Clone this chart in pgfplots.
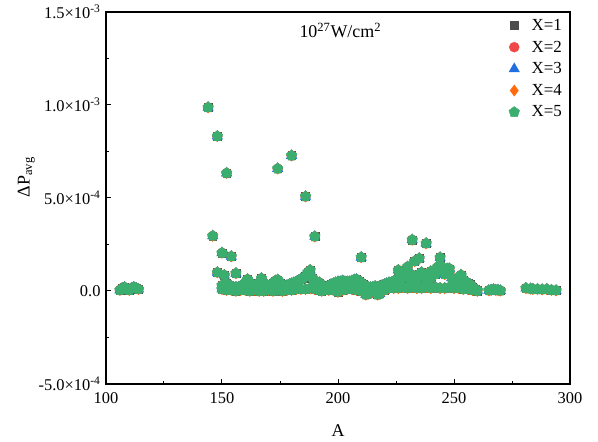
\documentclass[border=0pt]{standalone}
\usepackage{fontspec}
\setmainfont{Liberation Serif}
\usepackage{pgfplots}
\usepackage{pgfplotstable}
\pgfplotsset{compat=1.18}
\usetikzlibrary{plotmarks}

\definecolor{cgray}{HTML}{4D4D4D}
\definecolor{cred}{HTML}{F04848}
\definecolor{cblue}{HTML}{1F6FE0}
\definecolor{corange}{HTML}{FF6A0F}
\definecolor{cgreen}{HTML}{3AAE6E}

% A, Delta P_avg
\pgfplotstableread{
A P
106 0.05e-4
107 0.15e-4
108 0.20e-4
109 0.10e-4
110 0.05e-4
111 0.15e-4
112 0.20e-4
113 0.15e-4
114 0.10e-4
144 9.87e-4
146 2.96e-4
148 8.32e-4
148 1.00e-4
150 2.05e-4
152 6.34e-4
151 0.85e-4
154 1.86e-4
156 0.95e-4
174 6.58e-4
180 7.28e-4
186 5.08e-4
188 1.12e-4
190 2.93e-4
210 1.81e-4
226 1.12e-4
230 1.30e-4
232 2.75e-4
233 1.60e-4
235 1.75e-4
238 2.56e-4
240 1.05e-4
244 1.80e-4
248 1.20e-4
253 0.86e-4
150 0.10e-4
152 0.05e-4
154 0.05e-4
156 0.00e-4
158 0.05e-4
160 0.05e-4
162 0.00e-4
164 0.05e-4
166 0.00e-4
168 0.00e-4
170 0.05e-4
172 0.00e-4
174 0.05e-4
176 0.00e-4
178 0.05e-4
180 0.05e-4
182 0.10e-4
184 0.10e-4
186 0.10e-4
188 0.15e-4
190 0.10e-4
192 0.05e-4
193 0.00e-4
196 0.05e-4
198 0.05e-4
200 -0.05e-4
202 0.05e-4
204 0.10e-4
206 0.10e-4
208 0.05e-4
210 0.00e-4
212 -0.20e-4
213 -0.15e-4
215 -0.05e-4
217 -0.20e-4
218 -0.15e-4
220 0.05e-4
222 0.15e-4
224 0.15e-4
226 0.15e-4
228 0.20e-4
230 0.15e-4
232 0.20e-4
234 0.15e-4
236 0.15e-4
238 0.20e-4
240 0.15e-4
242 0.20e-4
244 0.15e-4
246 0.15e-4
248 0.20e-4
250 0.15e-4
252 0.15e-4
254 0.10e-4
256 0.10e-4
258 0.05e-4
260 0.00e-4
150 0.30e-4
151 0.30e-4
152 0.40e-4
153 0.30e-4
154 0.25e-4
155 0.20e-4
156 0.20e-4
157 0.20e-4
158 0.25e-4
159 0.30e-4
160 0.45e-4
161 0.63e-4
162 0.45e-4
163 0.30e-4
164 0.25e-4
165 0.30e-4
166 0.45e-4
167 0.68e-4
168 0.45e-4
169 0.30e-4
170 0.25e-4
171 0.30e-4
172 0.40e-4
173 0.55e-4
174 0.60e-4
175 0.45e-4
176 0.30e-4
177 0.25e-4
178 0.30e-4
179 0.35e-4
180 0.40e-4
181 0.45e-4
182 0.50e-4
183 0.55e-4
184 0.65e-4
185 0.70e-4
186 0.80e-4
187 1.00e-4
189 0.70e-4
190 0.50e-4
191 0.40e-4
192 0.45e-4
193 0.30e-4
194 0.20e-4
195 0.20e-4
196 0.25e-4
197 0.35e-4
198 0.40e-4
199 0.45e-4
200 0.50e-4
201 0.50e-4
202 0.55e-4
203 0.50e-4
204 0.50e-4
205 0.50e-4
206 0.55e-4
207 0.60e-4
208 0.62e-4
209 0.55e-4
210 0.45e-4
211 0.35e-4
212 0.20e-4
213 0.20e-4
214 0.20e-4
215 0.20e-4
216 0.25e-4
217 0.20e-4
218 0.25e-4
219 0.30e-4
220 0.35e-4
221 0.40e-4
222 0.45e-4
223 0.45e-4
224 0.50e-4
225 0.60e-4
226 0.70e-4
227 0.60e-4
228 0.80e-4
229 0.90e-4
230 0.75e-4
231 0.60e-4
232 0.86e-4
233 0.70e-4
234 0.60e-4
235 0.90e-4
236 1.00e-4
237 0.80e-4
238 0.60e-4
239 0.80e-4
240 0.70e-4
241 1.00e-4
242 0.90e-4
243 1.30e-4
244 1.40e-4
245 1.10e-4
246 0.90e-4
247 1.20e-4
248 1.00e-4
249 0.70e-4
250 0.60e-4
251 0.65e-4
252 0.70e-4
253 0.80e-4
254 0.60e-4
255 0.50e-4
256 0.40e-4
257 0.35e-4
258 0.20e-4
259 0.10e-4
260 0.05e-4
265 0.03e-4
266 0.05e-4
267 0.08e-4
268 0.05e-4
269 0.05e-4
270 0.02e-4
281 0.15e-4
283 0.12e-4
284 0.10e-4
286 0.10e-4
288 0.08e-4
290 0.10e-4
292 0.05e-4
294 0.03e-4
}\data

\begin{document}
\begin{tikzpicture}
\begin{axis}[
  name=ax,
  scale only axis, width=464bp, height=372bp,
  xmin=100, xmax=300, ymin=-5e-4, ymax=1.5e-3,
  xtick={100,150,200,250,300}, xticklabels={100,150,200,250,300},
  minor x tick num=1,
  ytick={-5e-4,0,5e-4,1e-3,1.5e-3},
  yticklabels={-5.0×10\textsuperscript{-4},0.0,5.0×10\textsuperscript{-4},1.0×10\textsuperscript{-3},1.5×10\textsuperscript{-3}},
  minor y tick num=1,
  scaled y ticks=false,
  tick align=inside, tick pos=left,
  major tick length=5bp, minor tick length=3bp,
  tick style={line width=1bp, black},
  axis line style={line width=1.3bp},
  ticklabel style={font=\fontsize{16.5}{19}\selectfont},
  xticklabel style={yshift=-5bp},
  yticklabel style={xshift=-2bp},
  xlabel={A}, ylabel={ΔP\textsubscript{avg}},
  label style={font=\fontsize{18}{21}\selectfont},
  xlabel style={yshift=-14bp},
  ylabel style={at={(ticklabel cs:0.556)}, yshift=-3bp},
  legend style={at={(rel axis cs:1,1)}, anchor=north east, xshift=-3bp, yshift=-3bp,
    draw=none, fill=none, font=\fontsize{17}{20}\selectfont, row sep=5bp,
    /tikz/every odd column/.append style={column sep=10bp}},
  legend cell align=left,
]
\addplot[only marks, mark=square*, mark size=3.9bp, color=cgray] table {\data};
\addlegendentry{X=1}
\addplot[only marks, mark=*, mark size=5bp, color=cred] table {\data};
\addlegendentry{X=2}
\addplot[only marks, mark=triangle*, mark size=6bp, color=cblue] table {\data};
\addlegendentry{X=3}
\addplot[only marks, mark=diamond*, mark size=5.6bp, color=corange] table {\data};
\addlegendentry{X=4}
\addplot[only marks, mark=pentagon*, mark size=5.6bp, color=cgreen] table {\data};
\addlegendentry{X=5}
\node[font=\fontsize{18}{21}\selectfont] at (axis cs:201,1.4e-3) {10\textsuperscript{27}W/cm\textsuperscript{2}};
\end{axis}
\path (ax.south west) +(-106bp,-58bp) (ax.north east) +(28bp,12bp);
\end{tikzpicture}
\end{document}
